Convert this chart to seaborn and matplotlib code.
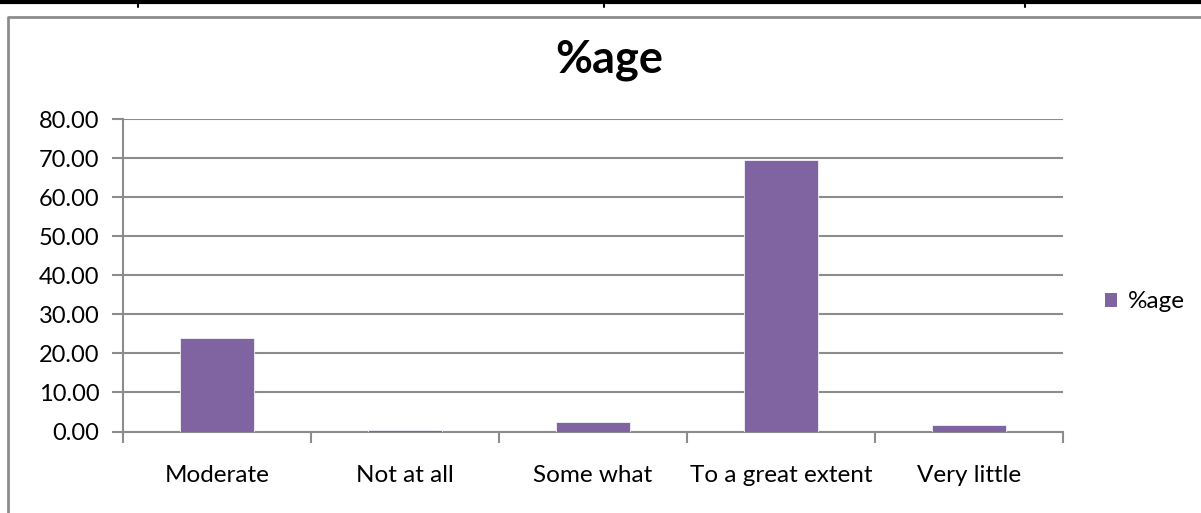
import matplotlib
matplotlib.use("Agg")
import matplotlib.pyplot as plt
import seaborn as sns
import pandas as pd
from matplotlib.lines import Line2D
from matplotlib.patches import Patch

categories = ["Moderate", "Not at all", "Some what", "To a great extent", "Very little"]
values = [24.0, 0.45, 2.4, 69.6, 1.6]
series_name = "%age"
yticks = [0, 10, 20, 30, 40, 50, 60, 70, 80]

sns.set_theme(style="white")
plt.rcParams['font.family'] = ['Lato', 'DejaVu Sans']

W, H = 1201, 513
fig = plt.figure(figsize=(W / 100, H / 100), dpi=100)
ax = fig.add_axes([123 / W, 1 - 431.5 / H, (1063 - 123) / W, (431.5 - 119) / H])

df = pd.DataFrame({"cat": categories, "val": values})
purple = "#8064A2"
sns.barplot(data=df, x="cat", y="val", ax=ax, color=purple, width=0.39,
            saturation=1, edgecolor="#f4f2f7", linewidth=0.6, zorder=3)

ax.set_ylim(0, 80)
ax.set_xlim(-0.5, 4.5)
ax.set_yticks(yticks)
ax.set_yticklabels([f"{v:.2f}" for v in yticks], fontsize=17, color="black")
ax.set_xticks(range(len(categories)))
ax.set_xticklabels(categories, fontsize=17.5, color="black")
ax.set_xlabel("")
ax.set_ylabel("")
ax.yaxis.grid(True, color="#8c8c8c", linewidth=1.5, zorder=0)
ax.set_axisbelow(True)
for s in ["top", "right"]:
    ax.spines[s].set_visible(False)
for s in ["left", "bottom"]:
    ax.spines[s].set_color("#8c8c8c")
    ax.spines[s].set_linewidth(1.5)
ax.tick_params(axis="y", length=8, width=1.5, color="#8c8c8c", left=True, pad=9)
ax.tick_params(axis="x", length=0, pad=24)
ax.set_xticks([-0.5, 0.5, 1.5, 2.5, 3.5, 4.5], minor=True)
ax.tick_params(axis="x", which="minor", length=8, width=1.5, color="#8c8c8c", bottom=True)

fig.text(609 / W, 1 - 60 / H, series_name, fontsize=32.5, fontweight="bold",
         ha="center", va="center", color="black")

handles = [Patch(facecolor=purple, edgecolor="none", label=series_name)]
leg = fig.legend(handles=handles, loc="center left", bbox_to_anchor=(1093 / W, 1 - 302 / H),
                 frameon=False, fontsize=17.5, handlelength=0.5, handleheight=0.5,
                 handletextpad=0.45, borderpad=0)
for t in leg.get_texts():
    t.set_color("black")

# page decorations: table line at top and chart frame
fig.add_artist(Line2D([0, 1], [1 - 2 / H, 1 - 2 / H], transform=fig.transFigure,
                      color="black", linewidth=3))
for x in [138, 604, 1025]:
    fig.add_artist(Line2D([x / W, x / W], [1 - 1 / H, 1 - 7 / H], transform=fig.transFigure,
                          color="black", linewidth=1.5))
fig.add_artist(Line2D([8 / W, 8 / W, 1], [0, 1 - 17 / H, 1 - 17 / H], transform=fig.transFigure,
                      color="#8c8c8c", linewidth=2))

fig.savefig("out.png", dpi=100)
